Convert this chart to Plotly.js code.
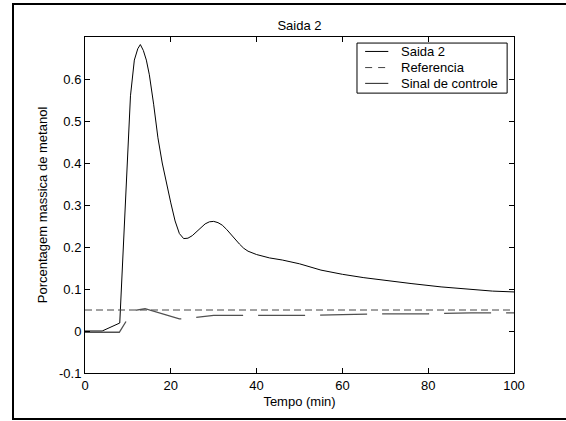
<!DOCTYPE html>
<html>
<head>
<meta charset="utf-8">
<script src="https://cdn.plot.ly/plotly-3.0.1.min.js"></script>
<style>
  html, body { margin: 0; padding: 0; background: #fff; overflow: hidden; }
  #chart { width: 566px; height: 421px; }
  #frame { position: absolute; left: 12px; top: 3px; width: 620px; height: 413px;
           border-left: 2px solid #000; border-top: 2px solid #000; border-bottom: 2px solid #000;
           pointer-events: none; }
</style>
</head>
<body>
<div id="chart"></div>
<div id="frame"></div>
<script>
// Saida 2 (output)
const saidaX = [0, 4, 8.1, 10.6, 11.5, 12.3, 12.9, 13.6, 14.3, 15, 16, 17, 18, 19, 20, 21, 22, 23, 24, 25, 26, 27, 28, 29, 30, 31, 32, 33, 34, 35, 36, 37, 38, 40, 43, 46, 50, 55, 60, 65, 70, 76, 83, 90, 95, 100];
const saidaY = [0, 0, 0.019, 0.56, 0.645, 0.672, 0.682, 0.668, 0.645, 0.61, 0.54, 0.46, 0.40, 0.35, 0.305, 0.262, 0.232, 0.22, 0.221, 0.227, 0.237, 0.247, 0.255, 0.26, 0.261, 0.258, 0.252, 0.242, 0.23, 0.218, 0.207, 0.197, 0.19, 0.182, 0.174, 0.169, 0.16, 0.145, 0.135, 0.127, 0.12, 0.113, 0.105, 0.099, 0.095, 0.093];

// Referencia (setpoint)
const refX = [0, 100];
const refY = [0.05, 0.05];

// Sinal de controle (control signal)
const ctrlX = [0, 8, 10, 12, 14, 17, 20, 22, 23, 26.6, 30, 40, 50, 60, 70, 80, 90, 100];
const ctrlY = [-0.003, -0.003, 0.03, 0.05, 0.053, 0.044, 0.035, 0.029, 0.029, 0.033, 0.037, 0.037, 0.037, 0.039, 0.041, 0.041, 0.043, 0.043];

// Tick labels
const xTicks = [0, 20, 40, 60, 80, 100];
const xTickText = ['0', '20', '40', '60', '80', '100'];
const yTicks = [-0.1, 0, 0.1, 0.2, 0.3, 0.4, 0.5, 0.6];
const yTickText = ['-0.1', '0', '0.1', '0.2', '0.3', '0.4', '0.5', '0.6'];

// Legend entries
const legendNames = ['Saida 2', 'Referencia', 'Sinal de controle'];

const FONT = 'Liberation Sans, Arial, sans-serif';
const styles = [
  { color: '#000000', width: 1 },
  { color: '#444444', width: 1, dash: '7px,4px' },
  { color: '#505050', width: 1.3, dash: '47px,15px' }
];
const legendStyles = [
  { color: '#000000', width: 1 },
  { color: '#444444', width: 1, dash: '7px,6px' },
  { color: '#222222', width: 1 }
];

const series = [[saidaX, saidaY], [refX, refY], [ctrlX, ctrlY]];
const traces = series.map((s, i) => ({
  x: s[0], y: s[1], type: 'scatter', mode: 'lines', name: legendNames[i],
  line: styles[i], showlegend: false
}));

// manual legend (paper coordinates)
const legBox = { x0: 0.634, x1: 0.984, y0: 0.833, y1: 0.982 };
const rowY = [0.957, 0.909, 0.862];
const shapes = [{
  type: 'rect', xref: 'paper', yref: 'paper',
  x0: legBox.x0, x1: legBox.x1, y0: legBox.y0, y1: legBox.y1,
  fillcolor: '#fff', line: { color: '#000', width: 1 }, layer: 'above'
}];
const annotations = [];
legendNames.forEach((n, i) => {
  shapes.push({ type: 'line', xref: 'paper', yref: 'paper',
    x0: 0.653, x1: 0.707, y0: rowY[i], y1: rowY[i], line: legendStyles[i], layer: 'above' });
  annotations.push({ xref: 'paper', yref: 'paper', x: 0.731, y: rowY[i],
    xanchor: 'left', yanchor: 'middle', showarrow: false, text: n,
    font: { family: FONT, size: 13, color: '#000' } });
});

const axisCommon = {
  showgrid: false, zeroline: false, showline: true, linecolor: '#000', linewidth: 1,
  mirror: 'ticks', ticks: 'inside', ticklen: 5, tickcolor: '#000', tickwidth: 1,
  tickfont: { family: FONT, size: 13, color: '#000' }, tickmode: 'array'
};

const layout = {
  width: 566, height: 421,
  margin: { l: 85, r: 52, t: 37, b: 48 },
  paper_bgcolor: '#fff', plot_bgcolor: '#fff',
  showlegend: false,
  title: { text: 'Saida 2', font: { family: FONT, size: 13, color: '#000' },
           x: 0.5, xref: 'paper', y: 1, yref: 'paper', yanchor: 'bottom', pad: { b: 7 } },
  xaxis: Object.assign({}, axisCommon, {
    range: [0, 100], tickvals: xTicks, ticktext: xTickText,
    title: { text: 'Tempo (min)', font: { family: FONT, size: 13, color: '#000' }, standoff: 5 }
  }),
  yaxis: Object.assign({}, axisCommon, {
    range: [-0.1, 0.7], tickvals: yTicks, ticktext: yTickText,
    title: { text: 'Porcentagem massica de metanol', font: { family: FONT, size: 13, color: '#000' }, standoff: 8 }
  }),
  shapes: shapes,
  annotations: annotations
};

Plotly.newPlot('chart', traces, layout, { displayModeBar: false, staticPlot: true });
</script>
</body>
</html>
